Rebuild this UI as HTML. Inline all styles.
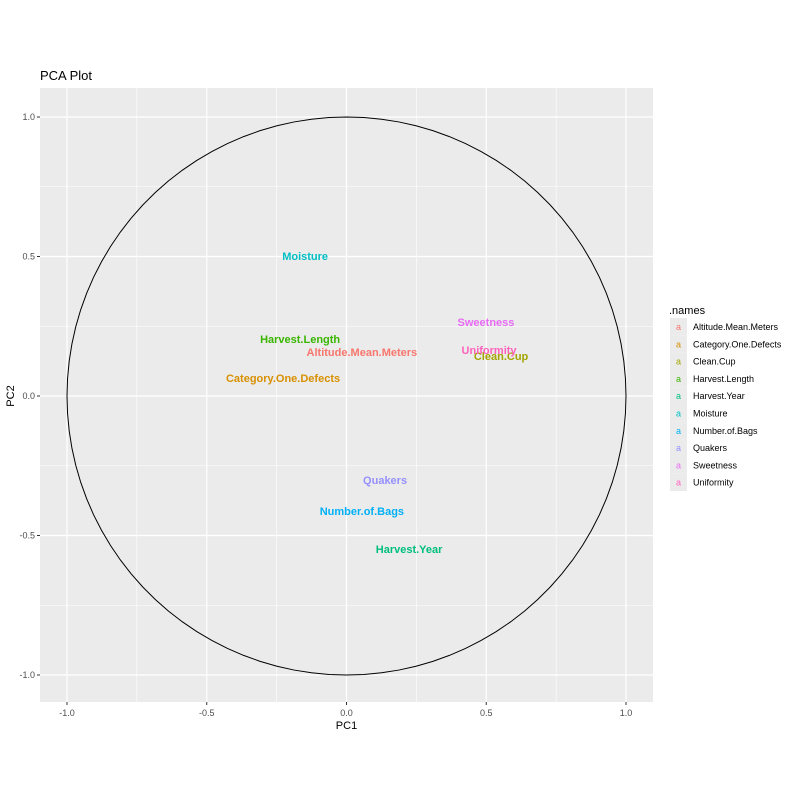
<!DOCTYPE html>
<html><head><meta charset="utf-8"><style>
body{margin:0;background:#fff;}
svg{display:block;font-family:"Liberation Sans",sans-serif;}
</style></head><body>
<svg id="chart" width="800" height="800"></svg>
<script>
const names=["Altitude.Mean.Meters","Category.One.Defects","Clean.Cup","Harvest.Length","Harvest.Year","Moisture","Number.of.Bags","Quakers","Sweetness","Uniformity"];
const pc1=[0.055,-0.227,0.553,-0.166,0.224,-0.148,0.055,0.138,0.499,0.51];
const pc2=[0.158,0.065,0.143,0.204,-0.548,0.502,-0.412,-0.301,0.265,0.165];
const colors=["#F8766D","#D89000","#A3A500","#39B600","#00BF7D","#00BFC4","#00B0F6","#9590FF","#E76BF3","#FF62BC"];
const ticks=[-1,-0.5,0,0.5,1];
const tickLabels=["-1.0","-0.5","0.0","0.5","1.0"];
const NS="http://www.w3.org/2000/svg";
const svg=document.getElementById("chart");
const L=40,R=653,T=88,B=702;
const X=v=>346.5+v*279.5, Y=v=>396-v*279;
function mk(t,a,p){const e=document.createElementNS(NS,t);for(const k in a)e.setAttribute(k,a[k]);(p||svg).appendChild(e);return e;}
let e=mk("rect",{x:L,y:T,width:R-L,height:B-T,fill:"#EBEBEB"});


for(let i=0;i<ticks.length-1;i++){
  const m=(ticks[i]+ticks[i+1])/2;
  mk("line",{x1:X(m),x2:X(m),y1:T,y2:B,stroke:"#fff","stroke-width":0.6});
  mk("line",{x1:L,x2:R,y1:Y(m),y2:Y(m),stroke:"#fff","stroke-width":0.6});
}
ticks.forEach((t,i)=>{
  e=mk("line",{x1:X(t),x2:X(t),y1:T,y2:B,stroke:"#fff","stroke-width":1.2});
  
  
  mk("line",{x1:L,x2:R,y1:Y(t),y2:Y(t),stroke:"#fff","stroke-width":1.2});
  mk("line",{x1:X(t),x2:X(t),y1:B,y2:B+3,stroke:"#333"});
  mk("line",{x1:L-3,x2:L,y1:Y(t),y2:Y(t),stroke:"#333"});
  e=mk("text",{x:X(t),y:B+14,"text-anchor":"middle","font-size":9,fill:"#4D4D4D"});e.textContent=tickLabels[i];
  
  
  e=mk("text",{x:L-5,y:Y(t)+3,"text-anchor":"end","font-size":9,fill:"#4D4D4D"});e.textContent=tickLabels[i];
  
  
});
let pts=[];for(let k=0;k<=100;k++){const a=k/100*2*Math.PI;pts.push(X(Math.cos(a))+","+Y(Math.sin(a)));}
e=mk("polyline",{points:pts.join(" "),fill:"none",stroke:"#000","stroke-width":1});


names.forEach((n,i)=>{
  e=mk("text",{x:X(pc1[i]),y:Y(pc2[i])+4,"text-anchor":"middle","font-size":11,"font-weight":"bold",fill:colors[i]});e.textContent=n;
  
  
});
e=mk("text",{x:40,y:80,"font-size":13,fill:"#000"});e.textContent="PCA Plot";


e=mk("text",{x:346.5,y:729,"text-anchor":"middle","font-size":11});e.textContent="PC1";


e=mk("text",{x:14,y:396,"text-anchor":"middle","font-size":11,transform:"rotate(-90 14 396)"});e.textContent="PC2";


e=mk("text",{x:669,y:314,"font-size":11});e.textContent=".names";


names.forEach((n,i)=>{
  const y=318+i*17.3;
  mk("rect",{x:670,y:y,width:17,height:17.3,fill:"#EBEBEB"});
  e=mk("text",{x:678.5,y:y+12,"text-anchor":"middle","font-size":9,fill:colors[i]});e.textContent="a";
  
  
  e=mk("text",{x:693,y:y+12,"font-size":9,fill:"#000"});e.textContent=n;
  
  
});
</script>
</body></html>
